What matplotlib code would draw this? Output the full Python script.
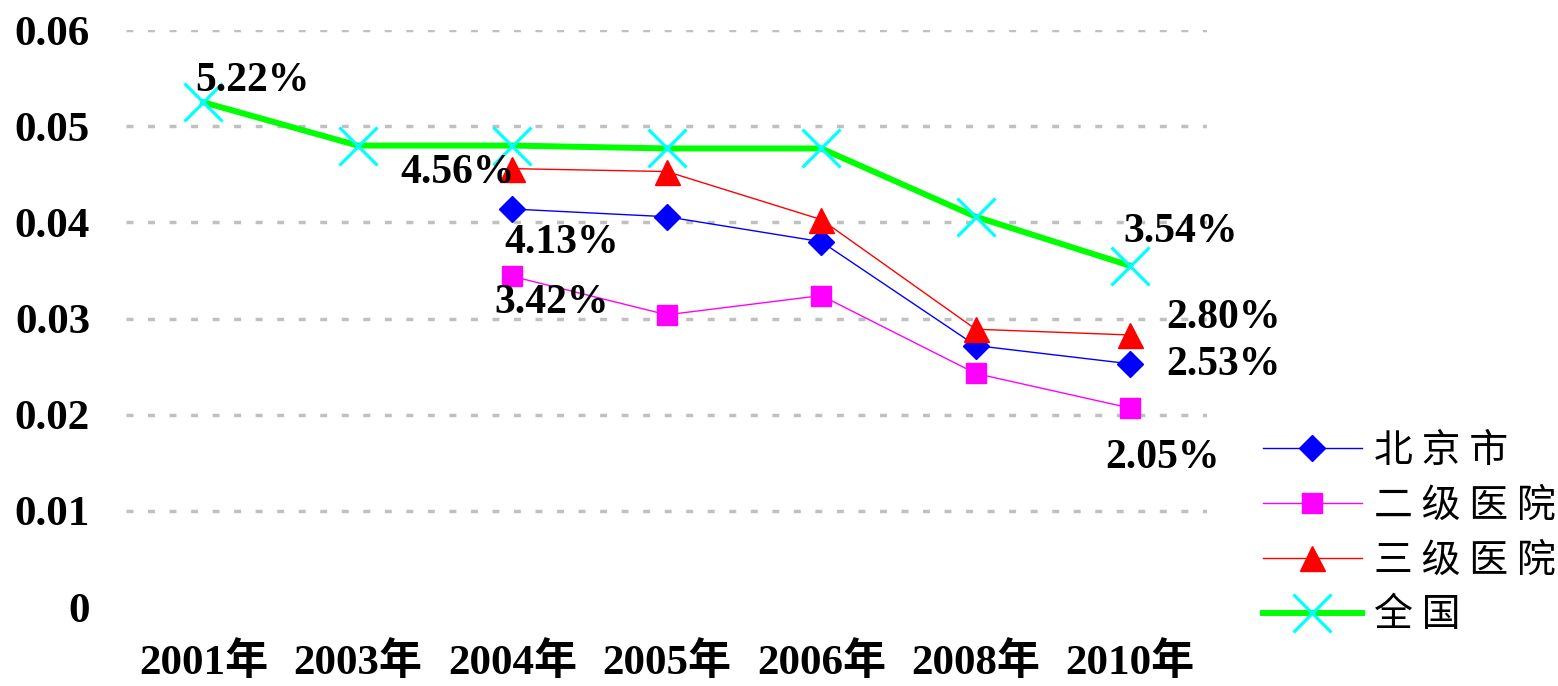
import matplotlib
matplotlib.use('Agg')
import matplotlib.pyplot as plt

# data
years = ['2001年', '2003年', '2004年', '2005年', '2006年', '2008年', '2010年']
beijing = [None, None, 0.0414, 0.0406, 0.0380, 0.0272, 0.0253]
erji = [None, None, 0.0344, 0.0304, 0.0324, 0.0243, 0.0207]
sanji = [None, None, 0.0456, 0.0453, 0.0403, 0.0289, 0.0283]
quanguo = [0.0525, 0.0480, 0.0480, 0.0477, 0.0477, 0.0406, 0.0355]
series_names = ['北 京 市', '二 级 医 院', '三 级 医 院', '全 国']

# (series, index, text, dx px, dy px)
point_labels = [
    ('quanguo', 0, '5.22%', 49, 21),
    ('sanji', 2, '4.56%', -55, -4),
    ('beijing', 2, '4.13%', 49, -34),
    ('erji', 2, '3.42%', 39, -27),
    ('quanguo', 6, '3.54%', 50, 34),
    ('sanji', 6, '2.80%', 93, 17),
    ('beijing', 6, '2.53%', 93, -1),
    ('erji', 6, '2.05%', 32, -50),
]

serif = ['Liberation Serif', 'Noto Sans CJK SC']
cjk = ['Noto Sans CJK SC', 'DejaVu Sans']

fig = plt.figure(figsize=(15.58, 6.86), dpi=100)
ax = fig.add_axes([0.081, 0.115, 0.694, 0.841])

x = list(range(len(years)))
data = {'beijing': beijing, 'erji': erji, 'sanji': sanji, 'quanguo': quanguo}

def pts(vals):
    xs = [i for i, v in zip(x, vals) if v is not None]
    ys = [v for v in vals if v is not None]
    return xs, ys

xs, ys = pts(beijing)
l1, = ax.plot(xs, ys, color='#0000FF', lw=1, marker='D', ms=13,
              markerfacecolor='#0000FF', markeredgecolor='#0000FF', zorder=4)
xs, ys = pts(erji)
l2, = ax.plot(xs, ys, color='#FF00FF', lw=1, marker='s', ms=15,
              markerfacecolor='#FF00FF', markeredgecolor='#FF00FF', zorder=4)
xs, ys = pts(sanji)
l3, = ax.plot(xs, ys, color='#FF0000', lw=1, marker='^', ms=18,
              markerfacecolor='#FF0000', markeredgecolor='#FF0000', zorder=4)
xs, ys = pts(quanguo)
l4, = ax.plot(xs, ys, color='#00FF00', lw=4.3, marker='x', ms=27,
              markeredgecolor='#00FFFF', markeredgewidth=2.3, zorder=3)

for key, i, txt, dx, dy in point_labels:
    ax.annotate(txt, (i, data[key][i]), xytext=(dx, dy), textcoords='offset pixels',
                ha='center', va='center', fontsize=30, fontweight='bold',
                family=serif, zorder=5)

ax.set_xlim(-0.5, 6.5)
ax.set_ylim(0, 0.06)
ax.set_yticks([0, 0.01, 0.02, 0.03, 0.04, 0.05, 0.06])
ax.set_yticklabels(['0', '0.01', '0.02', '0.03', '0.04', '0.05', '0.06'])
ax.set_xticks(x)
ax.set_xticklabels(years)
for lab in ax.get_xticklabels() + ax.get_yticklabels():
    lab.set_family(serif)
    lab.set_fontweight('bold')
    lab.set_fontsize(31)
ax.tick_params(axis='y', length=0, pad=26)
ax.tick_params(axis='x', length=0, pad=25)

ax.yaxis.grid(True, color='#C0C0C0', lw=2.5, dashes=(2.0, 4.2))
for gl in ax.get_ygridlines():
    gl.set_dash_capstyle('butt')
ax.get_ygridlines()[0].set_visible(False)
ax.set_axisbelow(True)
for s in ax.spines.values():
    s.set_visible(False)

handles = [l1, l2, l3, l4]
leg = fig.legend(handles, series_names,
                 loc='upper left', bbox_to_anchor=(0.798, 0.40), frameon=False,
                 prop={'family': cjk, 'size': 28}, handlelength=2.55,
                 handletextpad=0.3, labelspacing=0.38, borderpad=0)

fig.savefig('out.png', dpi=100)
